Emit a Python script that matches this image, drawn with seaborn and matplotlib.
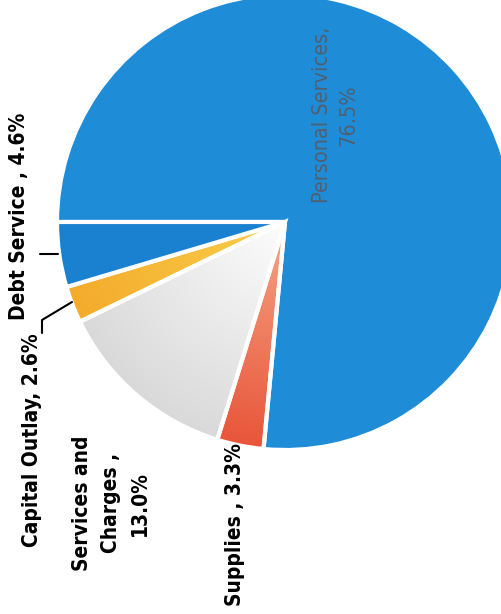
import numpy as np
import matplotlib.pyplot as plt
import matplotlib.colors as mcolors
import seaborn as sns

# 데이터 (pie 순서: 180도에서 시계방향)
categories = ["Personal Services", "Supplies", "Services and Charges",
              "Capital Outlay", "Debt Service"]
shares = [76.5, 3.3, 13.0, 2.6, 4.6]
colors = ["#1f8cd8", "#ec6740", "#ebebeb", "#f6b835", "#1a80d0"]
# 스캔본의 방사형 그라데이션 (안쪽 색, 바깥쪽 색)
gradients = {1: ("#f6a585", "#e8553a"), 2: ("#fdfdfd", "#d9d9d9"),
             3: ("#f9cf4a", "#f4ab2c")}

sns.set_theme(style="white")
plt.rcParams["font.family"] = ["DejaVu Sans Condensed", "DejaVu Sans"]
plt.rcParams["font.stretch"] = "condensed"

fig = plt.figure(figsize=(5.02, 6.14), dpi=100)
ax = fig.add_axes([0, 0, 1, 1])

# 스캔본처럼 중심(285,222)px, 반지름 228px
CX, CY, R = 285, 222, 228
def px(x, y):
    return (x - CX) / R, (CY - y) / R

wedges, _ = ax.pie(shares, colors=colors, startangle=180, counterclock=False,
                   wedgeprops=dict(edgecolor="white", linewidth=3))

# 그라데이션 채우기
g = np.linspace(-1, 1, 400)
xx, yy = np.meshgrid(g, g)
rr = np.clip(np.hypot(xx, yy), 0, 1)[..., None]
for i, (c_in, c_out) in gradients.items():
    a = np.array(mcolors.to_rgb(c_in))
    b = np.array(mcolors.to_rgb(c_out))
    img = a * (1 - rr) + b * rr
    im = ax.imshow(img, extent=(-1, 1, -1, 1), origin="lower", zorder=0.5)
    im.set_clip_path(wedges[i])
    wedges[i].set_facecolor("none")

ax.set_xlim(px(0, 0)[0], px(502, 0)[0])
ax.set_ylim(px(0, 614)[1], px(0, 0)[1])
ax.set_aspect("equal")
ax.axis("off")

# 라벨 (회전된 스캔)
bold = dict(rotation=90, fontsize=15, fontweight="bold", color="black",
            ha="center", va="center", linespacing=1.54)
ax.text(*px(335, 115), "Personal Services,\n76.5%", rotation=90, fontsize=15.5,
        color="#4f6070", ha="center", va="center", linespacing=1.37)
ax.text(*px(19, 216), "Debt Service , 4.6%", **bold)
ax.text(*px(32, 440), "Capital Outlay, 2.6%", **bold)
ax.text(*px(111, 503), "Services and\nCharges ,\n13.0%", multialignment="center", **bold)
ax.text(*px(235, 525), "Supplies , 3.3%", **bold)

# 지시선
for pts in [[(40, 254), (58, 254)], [(42, 333), (42, 320), (72, 302)]]:
    xs, ys = zip(*[px(a, b) for a, b in pts])
    ax.plot(xs, ys, color="black", lw=1.5)

fig.savefig("out.png", dpi=100)
